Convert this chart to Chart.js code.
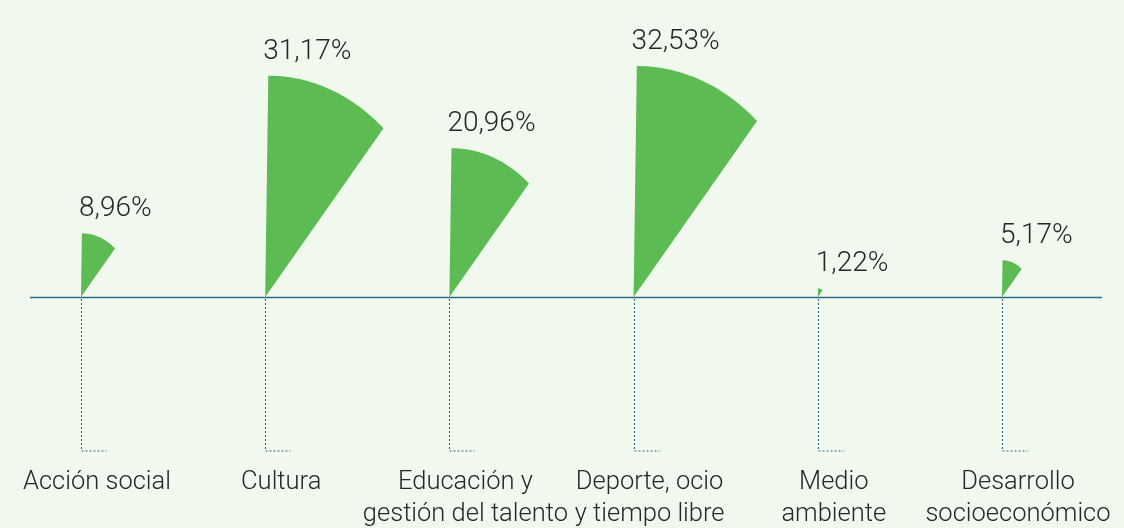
<!DOCTYPE html>
<html>
<head>
<meta charset="utf-8">
<style>
html,body{margin:0;padding:0;background:#f1f8ee;}
#wrap{width:1124px;height:528px;}
</style>
<script src="https://cdn.jsdelivr.net/npm/chart.js@4/dist/chart.umd.min.js"></script>
</head>
<body>
<div id="wrap"><canvas id="c" width="1124" height="528"></canvas></div>
<script>
const categories = [
  ["Acción social"],
  ["Cultura"],
  ["Educación y", "gestión del talento"],
  ["Deporte, ocio", "y tiempo libre"],
  ["Medio", "ambiente"],
  ["Desarrollo", "socioeconómico"]
];
const shares = [8.96, 31.17, 20.96, 32.53, 1.22, 5.17];

const GREEN = '#5cbb52';
const LINE = '#2c6b8c';
const TEXT = '#262626';
const FONT = 'Roboto';

function fmt(v) { return v.toFixed(2).replace('.', ',') + '%'; }

const wedgePlugin = {
  id: 'wedges',
  afterDatasetsDraw(chart) {
    const ctx = chart.ctx;
    const area = chart.chartArea;
    const yScale = chart.scales.y;
    const base = yScale.getPixelForValue(0);
    const meta = chart.getDatasetMeta(0);
    ctx.save();
    ctx.strokeStyle = LINE;
    ctx.lineWidth = 1.4;
    ctx.beginPath();
    ctx.moveTo(area.left - 67, Math.round(base) + 0.5);
    ctx.lineTo(area.right + 84, Math.round(base) + 0.5);
    ctx.stroke();

    meta.data.forEach((el, i) => {
      const ax = el.x - 16;
      const h = base - el.y;
      const rx = 0.809 * h;
      const shear = 0.014;
      const th1 = Math.acos(0.762);
      ctx.fillStyle = GREEN;
      ctx.beginPath();
      ctx.moveTo(ax, base);
      const N = 40;
      for (let k = 0; k <= N; k++) {
        const t = th1 * k / N;
        const u = rx * Math.sin(t);
        const v = h * Math.cos(t);
        ctx.lineTo(ax + u + shear * v, base - v);
      }
      ctx.closePath();
      ctx.fill();

      ctx.strokeStyle = LINE;
      ctx.lineWidth = 1.1;
      ctx.setLineDash([2, 2]);
      const xx = Math.round(ax) + 0.5;
      ctx.beginPath();
      ctx.moveTo(xx, base + 2);
      ctx.lineTo(xx, base + 154);
      ctx.lineTo(xx + 25, base + 154);
      ctx.stroke();
      ctx.setLineDash([]);

      ctx.fillStyle = TEXT;
      ctx.font = '300 28px ' + FONT;
      ctx.textAlign = 'left';
      ctx.textBaseline = 'alphabetic';
      ctx.fillText(fmt(shares[i]), ax - 2, el.y - 17);
    });
    ctx.restore();
  }
};

new Chart(document.getElementById('c'), {
  type: 'bar',
  data: {
    labels: categories,
    datasets: [{
      data: shares,
      backgroundColor: 'rgba(0,0,0,0)',
      borderWidth: 0
    }]
  },
  options: {
    responsive: false,
    animation: false,
    events: [],
    layout: { padding: { top: 13, left: 97, right: 106, bottom: 0 } },
    plugins: { legend: { display: false }, tooltip: { enabled: false } },
    scales: {
      x: {
        type: 'category',
        offset: false,
        grid: { display: false, drawTicks: true, tickLength: 168 },
        border: { display: false },
        afterFit(scale) { scale.height = 231; },
        ticks: {
          autoSkip: false,
          maxRotation: 0,
          minRotation: 0,
          padding: 2,
          color: TEXT,
          font: { family: FONT, weight: '300', size: 25.5, lineHeight: 1.25 }
        }
      },
      y: {
        display: false,
        min: 0,
        max: 40
      }
    }
  },
  plugins: [wedgePlugin]
});
</script>
</body>
</html>
